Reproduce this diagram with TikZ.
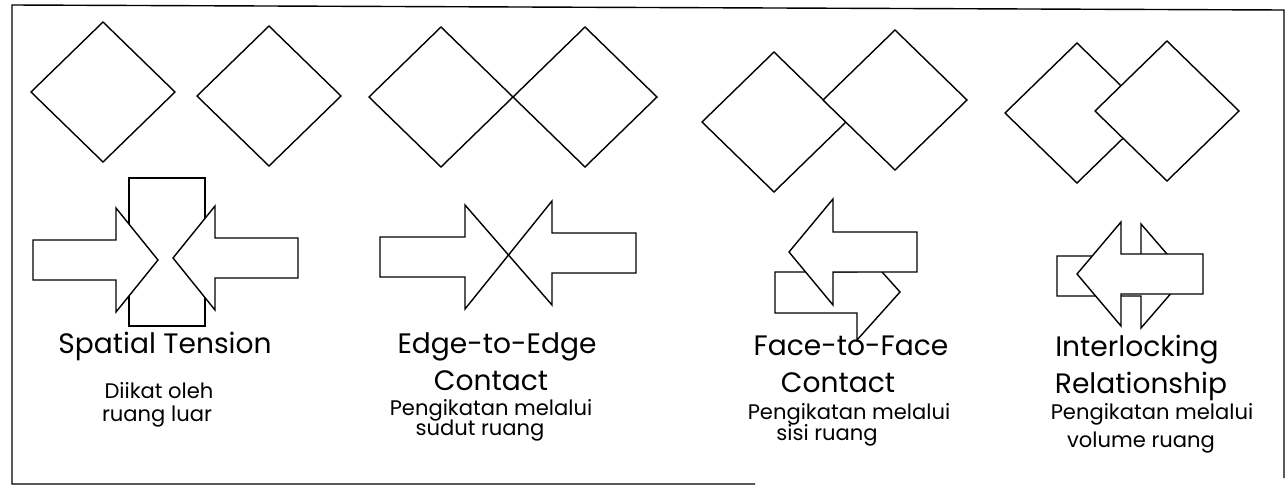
\documentclass[tikz,border=0pt]{standalone}
\usepackage{fontspec}
\setmainfont{Poppins}
\usepackage{tikz}
\usetikzlibrary{positioning}

\begin{document}
\begin{tikzpicture}[x=0.02cm,y=-0.02cm,line join=miter,
    garis/.style={line width=0.8pt},
    bentuk/.style={draw,line width=0.8pt,fill=white},
    judul/.style={anchor=base,inner sep=0pt,font=\fontsize{16}{16}\selectfont},
    ket/.style={anchor=base,inner sep=0pt,font=\fontsize{12}{12}\selectfont}]
      \useasboundingbox (0,0) rectangle (1286,487);
      % bingkai
      \draw[garis] (755,484)--(12,484)--(12,5)--(1284,10)--(1284,478);
      % Spatial Tension
      \draw[bentuk] (103,22)--(175,92)--(103,162)--(31,92)--cycle;
      \draw[bentuk] (269,26)--(341,96)--(269,166)--(197,96)--cycle;
      \draw[bentuk] (129,178) rectangle (205,326);
      \draw[bentuk] (33,240)--(116,240)--(116,208)--(158,260)--(116,312)--(116,280)--(33,280)--cycle;
      \draw[bentuk] (298,238)--(215,238)--(215,206)--(173,258)--(215,310)--(215,278)--(298,278)--cycle;
      \node[judul] (st) at (165,353) {Spatial Tension};
      \node[ket] (st1) at (159,398) {Diikat oleh};
      \node[ket] (st2) at (157,421) {ruang luar};
      % Edge-to-Edge Contact
      \draw[bentuk] (441,27)--(513,97)--(441,167)--(369,97)--cycle;
      \draw[bentuk] (585,27)--(657,97)--(585,167)--(513,97)--cycle;
      \coordinate (temu) at (508.5,255);
      \draw[garis] (380,237)--(465,237)--(465,205)--(temu)--(465,309)--(465,277)--(380,277)--cycle;
      \draw[garis] (636,233)--(552,233)--(552,201)--(temu)--(552,305)--(552,273)--(636,273)--cycle;
      \node[judul] (ee) at (497,353) {Edge-to-Edge};
      \node[judul] (ee0) at (491,390) {Contact};
      \node[ket] (ee1) at (491,415) {Pengikatan melalui};
      \node[ket] (ee2) at (480,435) {sudut ruang};
      % Face-to-Face Contact
      \draw[bentuk] (774,52)--(846,122)--(774,192)--(702,122)--cycle;
      \draw[bentuk] (895,30)--(967,100)--(895,170)--(823,100)--cycle;
      \draw[bentuk] (775,272)--(857,272)--(857,244)--(900,292)--(857,340)--(857,313)--(775,313)--cycle;
      \draw[bentuk] (917,232)--(833,232)--(833,199)--(789,252)--(833,305)--(833,272)--(917,272)--cycle;
      \node[judul] (ff) at (851,355) {Face-to-Face};
      \node[judul] (ff0) at (838,392) {Contact};
      \node[ket] (ff1) at (849,419) {Pengikatan melalui};
      \node[ket] (ff2) at (827,440) {sisi ruang};
      % Interlocking Relationship
      \draw[bentuk] (1077,43)--(1149,113)--(1077,183)--(1005,113)--cycle;
      \draw[bentuk] (1167,41)--(1239,111)--(1167,181)--(1095,111)--cycle;
      \draw[bentuk] (1057,256)--(1141,256)--(1141,224)--(1186,276)--(1141,328)--(1141,296)--(1057,296)--cycle;
      \draw[bentuk] (1203,254)--(1121,254)--(1121,222)--(1077,274)--(1121,326)--(1121,294)--(1203,294)--cycle;
      \node[judul] (ir) at (1137,356) {Interlocking};
      \node[judul] (ir0) at (1141,393) {Relationship};
      \node[ket] (ir1) at (1152,419) {Pengikatan melalui};
      \node[ket] (ir2) at (1141,447) {volume ruang};
    \end{tikzpicture}
\end{document}
